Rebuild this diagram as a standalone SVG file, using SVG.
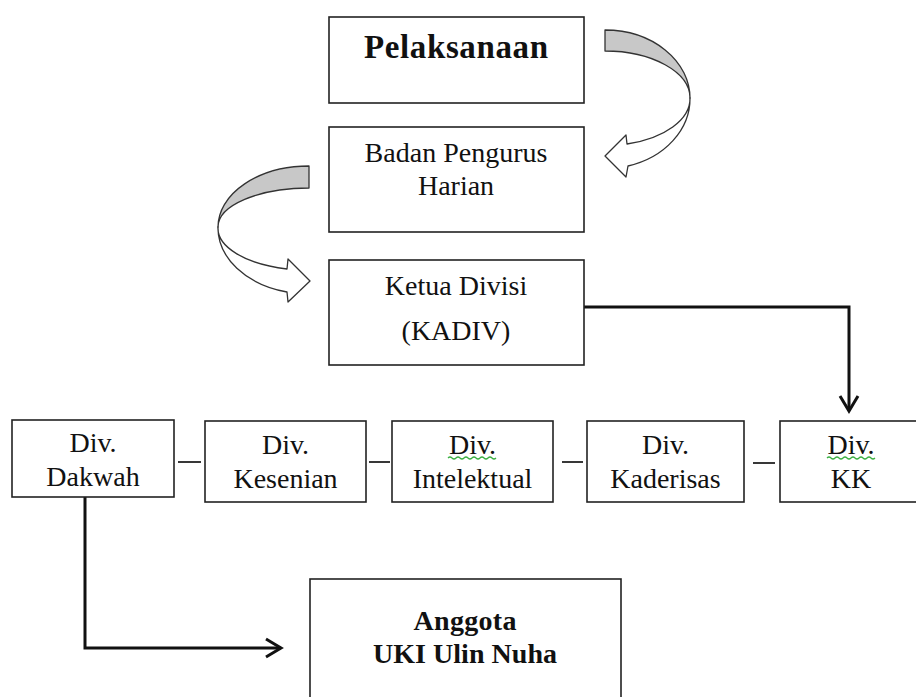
<svg xmlns="http://www.w3.org/2000/svg" width="916" height="697" viewBox="0 0 916 697">
<style>
.box{fill:#fff;stroke:#222;stroke-width:1.6}
.t{font-family:"Liberation Serif","Times New Roman",serif;font-size:28px;fill:#111;text-anchor:middle}
.b{font-weight:bold}
.big{font-size:33px}
.mid{font-size:28px}
.conn{fill:none;stroke:#111;stroke-width:3}
.dash{stroke:#222;stroke-width:1.8}
.rib{stroke:#333;stroke-width:1.3;stroke-linejoin:round}
.grey{fill:#c8c8c8}
.white{fill:#fff}
.sq{fill:none;stroke:#3cb043;stroke-width:1.2}
</style>
<defs>
<marker id="arr" markerUnits="userSpaceOnUse" markerWidth="22" markerHeight="26" viewBox="0 0 22 26" refX="18" refY="13" orient="auto">
<path d="M3,4 L18,13 L3,22" fill="none" stroke="#111" stroke-width="3"/>
</marker>
</defs>
<rect width="916" height="697" fill="#fff"/>

<g id="curved-arrow-right">
<path class="rib grey" d="M605,30 A85,68 0 0 1 690,98 A85,47 0 0 0 605,51 Z"/>
<path class="rib white" d="M690,98 A85,70 0 0 1 628,166 L626,177 L605,156 L626,135 L627,144 A85,47 0 0 0 690,98 Z"/>
</g>
<g id="curved-arrow-left">
<path class="rib grey" d="M309,166 A91,61 0 0 0 218,227 A91,39 0 0 1 309,188 Z"/>
<path class="rib white" d="M218,227 A91,66 0 0 0 287,292 L288,302 L310,281 L288,259 L287,269 A91,42 0 0 1 218,227 Z"/>
</g>

<g id="connectors">
<path class="conn" d="M584,307 H849 V411" marker-end="url(#arr)"/>
<path class="conn" d="M85,497 V648 H281" marker-end="url(#arr)"/>
<line class="dash" x1="178" y1="462" x2="201" y2="462"/>
<line class="dash" x1="369" y1="462" x2="390" y2="462"/>
<line class="dash" x1="562" y1="462" x2="583" y2="462"/>
<line class="dash" x1="753" y1="463" x2="775" y2="463"/>
</g>

<g id="pelaksanaan">
<rect class="box" x="329" y="17" width="255" height="86"/>
<text class="t b big" x="456" y="58" textLength="184">Pelaksanaan</text>
</g>
<g id="badan-pengurus-harian">
<rect class="box" x="329" y="127" width="255" height="105"/>
<text class="t" x="456" y="162">Badan Pengurus</text>
<text class="t" x="456" y="195">Harian</text>
</g>
<g id="ketua-divisi">
<rect class="box" x="329" y="260" width="255" height="105"/>
<text class="t" x="456" y="295">Ketua Divisi</text>
<text class="t" x="456" y="340">(KADIV)</text>
</g>

<g id="div-dakwah">
<rect class="box" x="12" y="420" width="162" height="77"/>
<text class="t" x="93" y="452">Div.</text>
<text class="t" x="93" y="486">Dakwah</text>
</g>
<g id="div-kesenian">
<rect class="box" x="205" y="421" width="161" height="81"/>
<text class="t" x="285.5" y="454">Div.</text>
<text class="t" x="285.5" y="488">Kesenian</text>
</g>
<g id="div-intelektual">
<rect class="box" x="392" y="421" width="161" height="81"/>
<text class="t" x="472.5" y="454">Div.</text>
<path class="sq" d="M448,458 q2,-2 4,0 t4,0 t4,0 t4,0 t4,0 t4,0 t4,0 t4,0 t4,0 t4,0 t4,0 t4,0"/>
<text class="t" x="472.5" y="488">Intelektual</text>
</g>
<g id="div-kaderisas">
<rect class="box" x="587" y="421" width="157" height="81"/>
<text class="t" x="665.5" y="454">Div.</text>
<text class="t" x="665.5" y="488">Kaderisas</text>
</g>
<g id="div-kk">
<rect class="box" x="780" y="421" width="142" height="81"/>
<text class="t" x="851" y="454">Div.</text>
<path class="sq" d="M827,458 q2,-2 4,0 t4,0 t4,0 t4,0 t4,0 t4,0 t4,0 t4,0 t4,0 t4,0 t4,0 t4,0"/>
<text class="t" x="851" y="488">KK</text>
</g>

<g id="anggota">
<rect class="box" x="310" y="579" width="311" height="140"/>
<text class="t b mid" x="465" y="630" textLength="103">Anggota</text>
<text class="t b mid" x="465" y="663" textLength="184">UKI Ulin Nuha</text>
</g>
</svg>
